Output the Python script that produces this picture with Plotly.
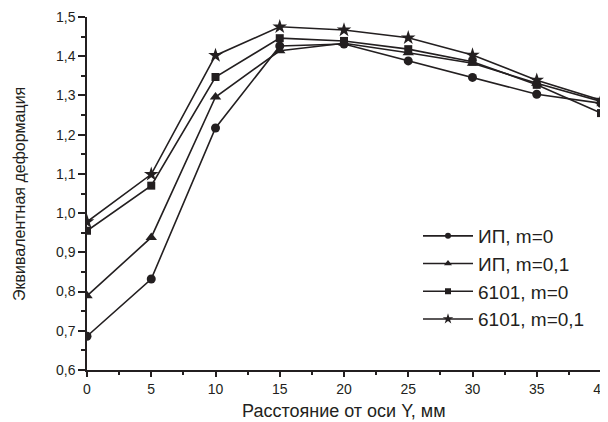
import plotly.graph_objects as go

x = [0, 5, 10, 15, 20, 25, 30, 35, 40]
ip_m0 = [0.686, 0.832, 1.217, 1.426, 1.431, 1.388, 1.346, 1.303, 1.280]
ip_m01 = [0.789, 0.938, 1.296, 1.414, 1.433, 1.409, 1.382, 1.331, 1.285]
s6101_m0 = [0.955, 1.070, 1.347, 1.446, 1.439, 1.418, 1.386, 1.327, 1.255]
s6101_m01 = [0.978, 1.099, 1.402, 1.475, 1.467, 1.447, 1.403, 1.339, 1.288]

names = ["ИП, m=0", "ИП, m=0,1", "6101, m=0", "6101, m=0,1"]
series = [ip_m0, ip_m01, s6101_m0, s6101_m01]
symbols = ["circle", "triangle-up", "square", "star"]
sizes = [9, 10, 8, 11]
leg_sizes = [6, 7, 6, 8]
x_ticks = [0, 5, 10, 15, 20, 25, 30, 35, 40]

x_title = "Расстояние от оси Y, мм"
y_title = "Эквивалентная деформация"

C = "#231f20"
# page body has an 8px margin: figure origin is at (8, 8) in the window
OFF = 8
W, H = 600, 414
l, r, t, b = 87 - OFF, 7, 17 - OFF, 52
pw, ph = W - l - r, H - t - b


def px(xs, ys):
    return (xs - OFF - l) / pw, 1 - (ys - OFF - t) / ph


fig = go.Figure()
for n, s, sym, sz in zip(names, series, symbols, sizes):
    fig.add_trace(go.Scatter(x=x, y=s, name=n, mode="lines+markers", showlegend=False,
                             line=dict(color=C, width=1.6),
                             marker=dict(symbol=sym, size=sz, color=C)))
for n, sym, sz in zip(names, symbols, leg_sizes):
    fig.add_trace(go.Scatter(x=[None], y=[None], name=n, mode="lines+markers",
                             line=dict(color=C, width=1.6),
                             marker=dict(symbol=sym, size=sz, color=C)))

xt = px(344, 411)
yt = px(19, 194)
lg = px(418, 217)
fig.update_layout(
    width=W, height=H,
    margin=dict(l=l, r=r, t=t, b=b),
    paper_bgcolor="white", plot_bgcolor="white",
    separators=", ",
    font=dict(family="Liberation Sans, Arial, sans-serif", color=C),
    legend=dict(x=lg[0], y=lg[1], xanchor="left", yanchor="top",
                bgcolor="rgba(0,0,0,0)", font=dict(size=19, color=C),
                tracegroupgap=0, itemwidth=50),
    showlegend=True,
    annotations=[
        dict(text=x_title, x=xt[0], y=xt[1], xref="paper", yref="paper", showarrow=False,
             font=dict(size=18, color=C), xanchor="center", yanchor="middle"),
        dict(text=y_title, x=yt[0], y=yt[1], xref="paper", yref="paper", showarrow=False,
             textangle=-90, font=dict(size=16, color=C), xanchor="center", yanchor="middle"),
    ],
)

fig.update_xaxes(range=[0, 40], tickvals=x_ticks, ticktext=[str(v) for v in x_ticks],
                 ticklabeloverflow="allow",
                 showline=True, linecolor=C, linewidth=1.5, mirror=False, automargin=False,
                 ticks="outside", ticklen=5, tickwidth=1.5, tickcolor=C,
                 minor=dict(dtick=2.5, ticks="outside", ticklen=3, tickwidth=1.5, tickcolor=C),
                 showgrid=False, zeroline=False,
                 tickfont=dict(size=14))
fig.update_yaxes(range=[0.6, 1.5], dtick=0.1, tick0=0.6, tickformat=".1f",
                 showline=True, linecolor=C, linewidth=1.5, mirror=False, automargin=False,
                 ticks="outside", ticklen=7, tickwidth=1.5, tickcolor=C,
                 minor=dict(dtick=0.05, ticks="outside", ticklen=4, tickwidth=1.5, tickcolor=C),
                 showgrid=False, zeroline=False,
                 tickfont=dict(size=14))

fig.write_html("out.html")
